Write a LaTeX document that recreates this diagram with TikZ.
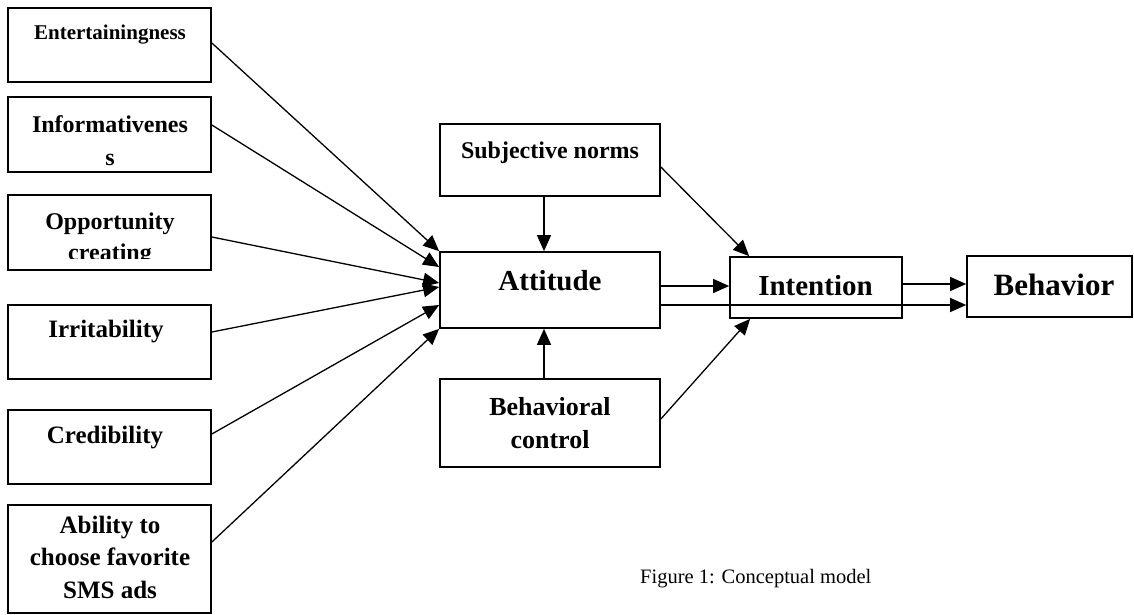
\documentclass[tikz,border=0pt]{standalone}
\usepackage{fontspec}
\setmainfont{Liberation Serif}
\usetikzlibrary{arrows.meta}
\begin{document}
\begin{tikzpicture}[x=1pt,y=-1pt,
  box/.style={draw, line width=1.7pt, rectangle, inner sep=0pt},
  lbl/.style={anchor=base, inner sep=0pt, font=\bfseries\fontsize{24}{32}\selectfont, align=center},
  arr/.style={-{Triangle[length=16pt,width=14pt]}, line width=1.3pt}]
\useasboundingbox (0,0) rectangle (1134,615);
% left boxes
\node[box, minimum width=203pt, minimum height=74pt] (E) at (109.5,45) {};
\node[box, minimum width=203pt, minimum height=75pt] (I) at (109.5,134.5) {};
\node[box, minimum width=203pt, minimum height=75pt] (O) at (109.5,232.5) {};
\node[box, minimum width=203pt, minimum height=74pt] (R) at (109.5,342) {};
\node[box, minimum width=203pt, minimum height=74pt] (C) at (109.5,447) {};
\node[box, minimum width=203pt, minimum height=108pt] (B) at (109.5,559) {};
% centre boxes
\node[box, minimum width=220pt, minimum height=72pt] (SN) at (550,160) {};
\node[box, minimum width=220pt, minimum height=76pt] (A) at (550,290) {};
\node[box, minimum width=220pt, minimum height=88pt] (BC) at (550,423) {};
\node[box, minimum width=172pt, minimum height=61pt] (INT) at (816,287.5) {};
\node[box, minimum width=165pt, minimum height=61pt] (BEH) at (1049.5,286.5) {};
% texts (multi-line nodes are placed by the baseline of their last line)
\node[lbl, font=\bfseries\fontsize{21}{28}\selectfont] (Et) at (110,40) {Entertainingness};
\node[lbl, font=\bfseries\fontsize{24}{33}\selectfont] (It) at (110,165) {Informativenes\\s};
\begin{scope}
\clip (10,196) rectangle (209,258.5);
\node[lbl, font=\bfseries\fontsize{24}{31}\selectfont] (Ot) at (110,260) {Opportunity\\creating};
\end{scope}
\node[lbl, font=\bfseries\fontsize{25}{32}\selectfont] (Rt) at (106,337) {Irritability};
\node[lbl, font=\bfseries\fontsize{25}{32}\selectfont] (Ct) at (105,443) {Credibility};
\node[lbl, font=\bfseries\fontsize{25}{32.5}\selectfont] (Bt) at (110,598) {Ability to\\choose favorite\\SMS ads};
\node[lbl] (SNt) at (550,158) {Subjective norms};
\node[lbl, font=\bfseries\fontsize{26}{33}\selectfont] (BCt) at (550,448) {Behavioral\\control};
\node[lbl, font=\bfseries\fontsize{29}{34}\selectfont] (At) at (550,290) {Attitude};
\node[lbl, font=\bfseries\fontsize{29}{34}\selectfont] (INTt) at (815.5,295) {Intention};
\node[lbl, font=\bfseries\fontsize{31}{36}\selectfont] (BEHt) at (1054,295) {Behavior};
\node[anchor=base west, inner sep=0pt, font=\fontsize{20.5}{24}\selectfont] (cap) at (640,583) {Figure 1: Conceptual model};
% connectors into Attitude
\draw[arr] ([yshift=2pt]E.east) -- (A.north west);
\draw[arr] ([yshift=9.5pt]I.east) -- ([yshift=23pt]A.west);
\draw[arr] ([yshift=-4.5pt]O.east) -- ([yshift=7pt]A.west);
\draw[arr] ([yshift=10pt]R.east) -- ([yshift=3pt]A.west);
\draw[arr] ([yshift=13pt]C.east) -- ([yshift=-15pt]A.west);
\draw[arr] ([yshift=17pt]B.east) -- (A.south west);
\draw[arr] ([xshift=-6pt]SN.south) -- ([xshift=-6pt]A.north);
\draw[arr] ([xshift=-6pt]BC.north) -- ([xshift=-6pt]A.south);
% to Intention
\draw[arr] ([yshift=-7pt]SN.east) -- ([xshift=20pt]INT.north west);
\draw[arr] ([yshift=4pt]BC.east) -- ([xshift=21pt]INT.south west);
\draw[arr] ([yshift=4pt]A.east) -- ([yshift=4pt]A.east -| INT.west);
% to Behavior
\draw[arr] ([yshift=-15pt]A.east) -- ([yshift=-15pt]A.east -| BEH.west);
\draw[arr] ([yshift=3.5pt]INT.east) -- ([yshift=3.5pt]INT.east -| BEH.west);
\end{tikzpicture}
\end{document}
